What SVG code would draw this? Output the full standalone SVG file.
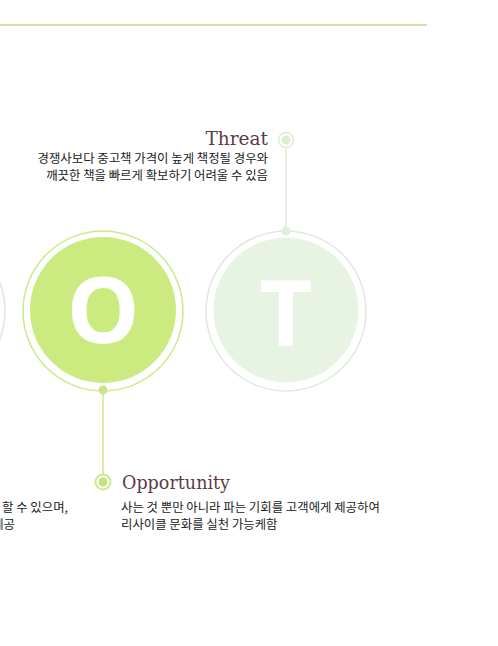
<svg xmlns="http://www.w3.org/2000/svg" width="498" height="646" viewBox="0 0 498 646">
  <style>
    .ko { font-family: "Noto Sans CJK KR", "Noto Sans", sans-serif; font-size: 12.4px; fill: #222222; }
    .title { font-family: "DejaVu Serif", "Liberation Serif", serif; font-size: 18.5px; fill: #5e3a45; }
    .big { font-family: "Open Sans", "Liberation Sans", sans-serif; font-size: 92px; font-weight: 700; fill: #ffffff; text-anchor: middle; }
    .ringO { fill: none; stroke: #cdea8a; stroke-width: 1.5; }
    .ringT { fill: none; stroke: #dfeadb; stroke-width: 1.5; }
  </style>
  <rect x="0" y="0" width="498" height="646" fill="#ffffff"/>
  <rect id="top-rule" x="0" y="24" width="427" height="2" fill="#cfe2a8"/>

  <g id="node-W">
    <circle cx="-75" cy="311" r="80" fill="none" stroke="#dfe6d8" stroke-width="1.5"/>
  </g>

  <g id="node-O">
    <circle cx="103" cy="311" r="80" class="ringO"/>
    <circle cx="103" cy="310" r="73" fill="#cbeb80"/>
    <text x="103" y="343" class="big">O</text>
  </g>

  <g id="node-T">
    <circle cx="286" cy="311" r="80" class="ringT"/>
    <circle cx="286" cy="310" r="72.5" fill="#e8f4e3"/>
    <text x="286" y="346" class="big">T</text>
  </g>

  <g id="connectors">
    <line x1="286" y1="148" x2="286" y2="231" stroke="#e1eedb" stroke-width="1.5"/>
    <circle cx="286" cy="231" r="4.5" fill="#e1eedb"/>
    <circle cx="286" cy="140" r="7.5" fill="#ffffff" stroke="#e1eedb" stroke-width="1.8"/>
    <circle cx="286" cy="140" r="4.5" fill="#dcedd4"/>

    <line x1="103" y1="390" x2="103" y2="474" stroke="#cdea8a" stroke-width="1.5"/>
    <circle cx="103" cy="390" r="4.5" fill="#c8e685"/>
    <circle cx="103" cy="482" r="7.5" fill="#ffffff" stroke="#cdea8a" stroke-width="2"/>
    <circle cx="103" cy="482" r="4.5" fill="#c5e37a"/>
  </g>

  <g id="label-threat">
    <text x="268" y="145" class="title" text-anchor="end">Threat</text>
    <text x="268" y="163" class="ko" text-anchor="end">경쟁사보다 중고책 가격이 높게 책정될 경우와</text>
    <text x="268" y="180" class="ko" text-anchor="end">깨끗한 책을 빠르게 확보하기 어려울 수 있음</text>
  </g>

  <g id="label-opportunity">
    <text x="122" y="489" class="title" textLength="108" lengthAdjust="spacingAndGlyphs">Opportunity</text>
    <text x="121" y="511.5" class="ko">사는 것 뿐만 아니라 파는 기회를 고객에게 제공하여</text>
    <text x="121" y="528.5" class="ko">리사이클 문화를 실천 가능케함</text>
  </g>

  <g id="label-w">
    <text x="68" y="511.5" class="ko" text-anchor="end">할 수 있으며,</text>
    <text x="15" y="528.5" class="ko" text-anchor="end">제공</text>
  </g>
</svg>
